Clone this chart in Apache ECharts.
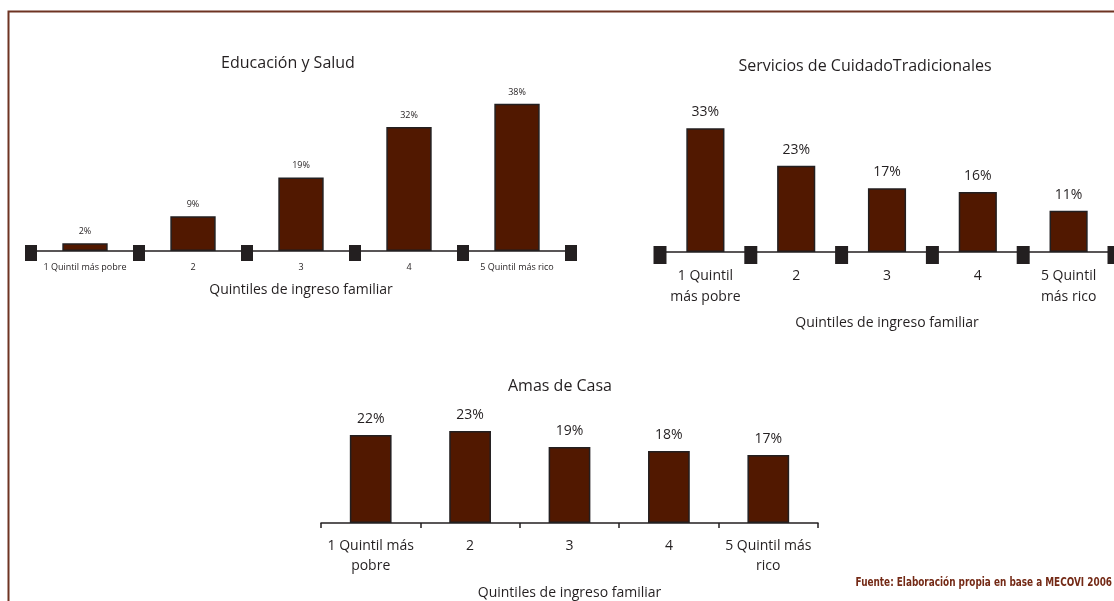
<!DOCTYPE html>
<html>
<head>
<meta charset="utf-8">
<script src="https://cdn.jsdelivr.net/npm/echarts@6/dist/echarts.min.js"></script>
<style>
html, body { margin: 0; padding: 0; background: #fff; }
#main { width: 1114px; height: 601px; }
</style>
</head>
<body>
<div id="main"></div>
<script>
// categorias (saltos de linea segun cada grafico)
const quintilesEdu = ["1 Quintil más pobre", "2", "3", "4", "5 Quintil más rico"];
const quintilesServ = ["1 Quintil\nmás pobre", "2", "3", "4", "5 Quintil\nmás rico"];
const quintilesAmas = ["1 Quintil más\npobre", "2", "3", "4", "5 Quintil más\nrico"];

// porcentajes por quintil
const educacionSalud = [2, 9, 19, 32, 38];
const serviciosCuidado = [33, 23, 17, 16, 11];
const amasDeCasa = [22, 23, 19, 18, 17];

// limites entre categorias donde van los cuadritos negros
const limites = [0, 1, 2, 3, 4, 5];

const FONT = "'Open Sans', 'Noto Sans', sans-serif";
const BAR = "#511800";
const INK = "#231f20";

let myChart = echarts.init(document.getElementById("main"));

function barSeries(name, data, xi, yi, fontSize, dist) {
  return {
    name: name,
    type: "bar",
    xAxisIndex: xi,
    yAxisIndex: yi,
    data: data,
    barWidth: "42%",
    itemStyle: { color: BAR, borderColor: INK, borderWidth: 1.5 },
    label: {
      show: true,
      position: "top",
      distance: dist,
      formatter: "{c}%",
      fontFamily: FONT,
      fontSize: fontSize,
      color: INK
    }
  };
}

function squares(xi, yi, size, off) {
  return {
    type: "scatter",
    xAxisIndex: xi,
    yAxisIndex: yi,
    data: limites.map(function (b) { return [b, 0]; }),
    symbol: "rect",
    symbolSize: size,
    symbolOffset: [0, off],
    clip: false,
    itemStyle: { color: INK, opacity: 1 },
    z: 5,
    silent: true
  };
}

function catAxis(grid, data, fontSize, margin, lineHeight, nameGap, tick) {
  return {
    type: "category",
    gridIndex: grid,
    data: data,
    axisLine: { lineStyle: { color: INK, width: 1.5 } },
    axisTick: { show: tick, length: 5, lineStyle: { color: INK, width: 1.5 } },
    axisLabel: {
      interval: 0,
      margin: margin,
      fontFamily: FONT,
      fontSize: fontSize,
      lineHeight: lineHeight,
      color: INK
    },
    name: "Quintiles de ingreso familiar",
    nameLocation: "middle",
    nameGap: nameGap,
    nameTextStyle: { fontFamily: FONT, fontSize: 14, color: INK }
  };
}

function hiddenValueX(grid) {
  return { type: "value", gridIndex: grid, min: 0, max: 5, show: false };
}

function hiddenY(grid, max) {
  return { type: "value", gridIndex: grid, min: 0, max: max, show: false };
}

function titulo(text, x, y) {
  return {
    text: text,
    left: x,
    top: y,
    padding: 0,
    textAlign: "center",
    textStyle: { fontFamily: FONT, fontSize: 16, fontWeight: "normal", color: INK }
  };
}

myChart.setOption({
  backgroundColor: "#fff",
  animation: false,
  title: [
    titulo("Educación y Salud", 288, 55),
    titulo("Servicios de CuidadoTradicionales", 865, 58),
    titulo("Amas de Casa", 560, 378)
  ],
  grid: [
    { left: 31, top: 96, width: 540, height: 155 },
    { left: 660, top: 102, width: 455, height: 150 },
    { left: 321, top: 403, width: 497, height: 120 }
  ],
  xAxis: [
    catAxis(0, quintilesEdu, 9, 10, 12, 32, false),
    hiddenValueX(0),
    catAxis(1, quintilesServ, 14, 14, 21, 64, false),
    hiddenValueX(1),
    catAxis(2, quintilesAmas, 14, 13, 20, 63, true)
  ],
  yAxis: [hiddenY(0, 40), hiddenY(1, 40), hiddenY(2, 30)],
  series: [
    barSeries("Educación y Salud", educacionSalud, 0, 0, 9, 7),
    squares(1, 0, [12, 16], 2),
    barSeries("Servicios de Cuidado Tradicionales", serviciosCuidado, 2, 1, 14, 9),
    squares(3, 1, [13, 18], 3),
    barSeries("Amas de Casa", amasDeCasa, 4, 2, 14, 9)
  ],
  graphic: [
    {
      type: "polyline",
      shape: { points: [[8.5, 601], [8.5, 11.5], [1114, 11.5]] },
      style: { stroke: "#6e3322", lineWidth: 2, fill: null },
      silent: true
    },
    {
      type: "text",
      x: 1112,
      y: 583,
      scaleX: 0.76,
      silent: true,
      style: {
        text: "Fuente: Elaboración propia en base a MECOVI 2006",
        align: "right",
        verticalAlign: "middle",
        font: "bold 13px 'DejaVu Sans Condensed', 'Liberation Sans', sans-serif",
        fill: "#742a16"
      }
    }
  ]
});
</script>
</body>
</html>
